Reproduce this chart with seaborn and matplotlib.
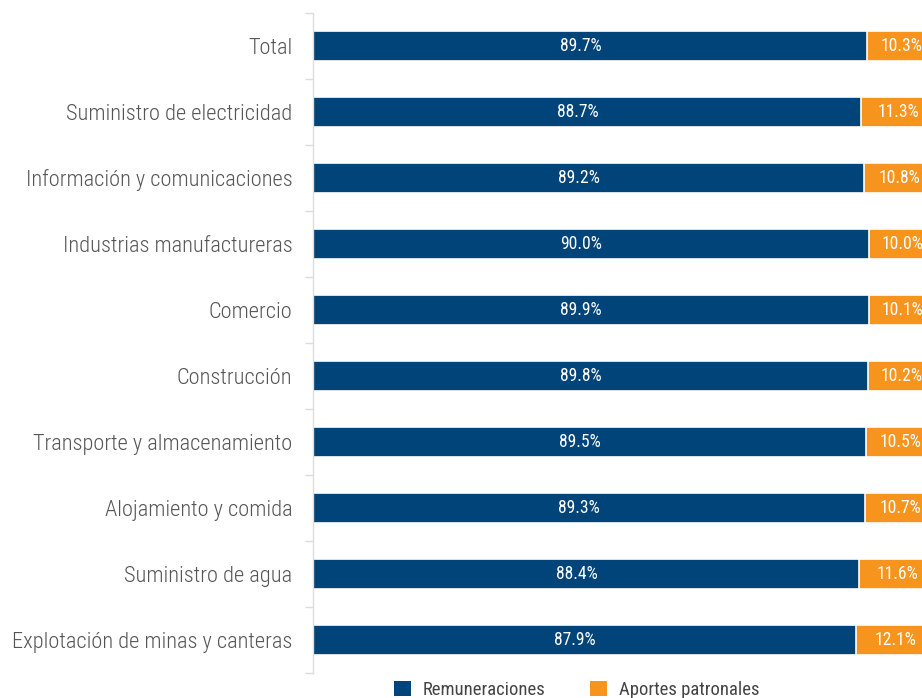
import matplotlib
matplotlib.use("Agg")
import matplotlib.pyplot as plt
import matplotlib.font_manager as fm
from matplotlib.patches import Patch
import seaborn as sns
import pandas as pd
import numpy as np

categories = ["Total", "Suministro de electricidad", "Información y comunicaciones",
              "Industrias manufactureras", "Comercio", "Construcción",
              "Transporte y almacenamiento", "Alojamiento y comida",
              "Suministro de agua", "Explotación de minas y canteras"]
remuneraciones = [89.7, 88.7, 89.2, 90.0, 89.9, 89.8, 89.5, 89.3, 88.4, 87.9]
aportes = [10.3, 11.3, 10.8, 10.0, 10.1, 10.2, 10.5, 10.7, 11.6, 12.1]
series_names = ["Remuneraciones", "Aportes patronales"]

BLUE = "#00447a"
ORANGE = "#f7941d"
GREY = "#555555"

sns.set_theme(style="white")
names = {f.name for f in fm.fontManager.ttflist}
fam = "Roboto"
for cand in ["Roboto Condensed", "Liberation Sans Narrow", "Roboto"]:
    if cand in names:
        fam = cand
        break
plt.rcParams["font.family"] = [fam, "DejaVu Sans"]

df = pd.DataFrame({"cat": categories, "rem": remuneraciones, "apo": aportes})
df["total"] = df["rem"] + df["apo"]

fig = plt.figure(figsize=(9.22, 6.98), dpi=100)
W = 618.7
ax = fig.add_axes([312.5 / 922, 25 / 698, W / 922, 660 / 698])

sns.barplot(data=df, x="total", y="cat", color=ORANGE, orient="h", width=0.44,
            edgecolor="white", linewidth=1.2, saturation=1, ax=ax)
sns.barplot(data=df, x="rem", y="cat", color=BLUE, orient="h", width=0.44,
            edgecolor="white", linewidth=1.2, saturation=1, ax=ax)

for i, (r, a) in enumerate(zip(remuneraciones, aportes)):
    ax.annotate(f"{r:.1f}%", (r / 2, i), xytext=(-6.8, 0), textcoords="offset points",
                color="white", ha="center", va="center", fontsize=12.7)
    ax.annotate(f"{a:.1f}%", (r + a / 2, i), xytext=(1.5, 0), textcoords="offset points",
                color="white", ha="center", va="center", fontsize=12.7,
                annotation_clip=False)

ax.set_xlim(0, 100)
ax.set_ylim(len(categories) - 0.5, -0.5)
ax.set_xlabel("")
ax.set_ylabel("")
ax.set_xticks([])
for s in ["top", "right", "bottom"]:
    ax.spines[s].set_visible(False)
ax.spines["left"].set_color("#dddddd")
ax.spines["left"].set_linewidth(1)

ax.set_yticks(range(len(categories)))
ax.set_yticklabels(categories, fontsize=16.1, color=GREY, fontweight="light")
ax.set_yticks(np.arange(-0.5, len(categories), 1.0), minor=True)
ax.tick_params(axis="y", which="major", length=0, pad=14.5)
ax.tick_params(axis="y", which="minor", length=5.5, color="#dddddd", width=1, left=True)

handles = [Patch(facecolor=BLUE, edgecolor="none"), Patch(facecolor=ORANGE, edgecolor="none")]
leg = fig.legend(handles, series_names, loc="center", bbox_to_anchor=(577 / 922, 8 / 698),
                 ncol=2, frameon=False, fontsize=13.4, handlelength=0.9, handleheight=0.9,
                 columnspacing=2.4, handletextpad=0.65, borderaxespad=0)
for t in leg.get_texts():
    t.set_color("#444444")

fig.savefig("out.png", dpi=100)
